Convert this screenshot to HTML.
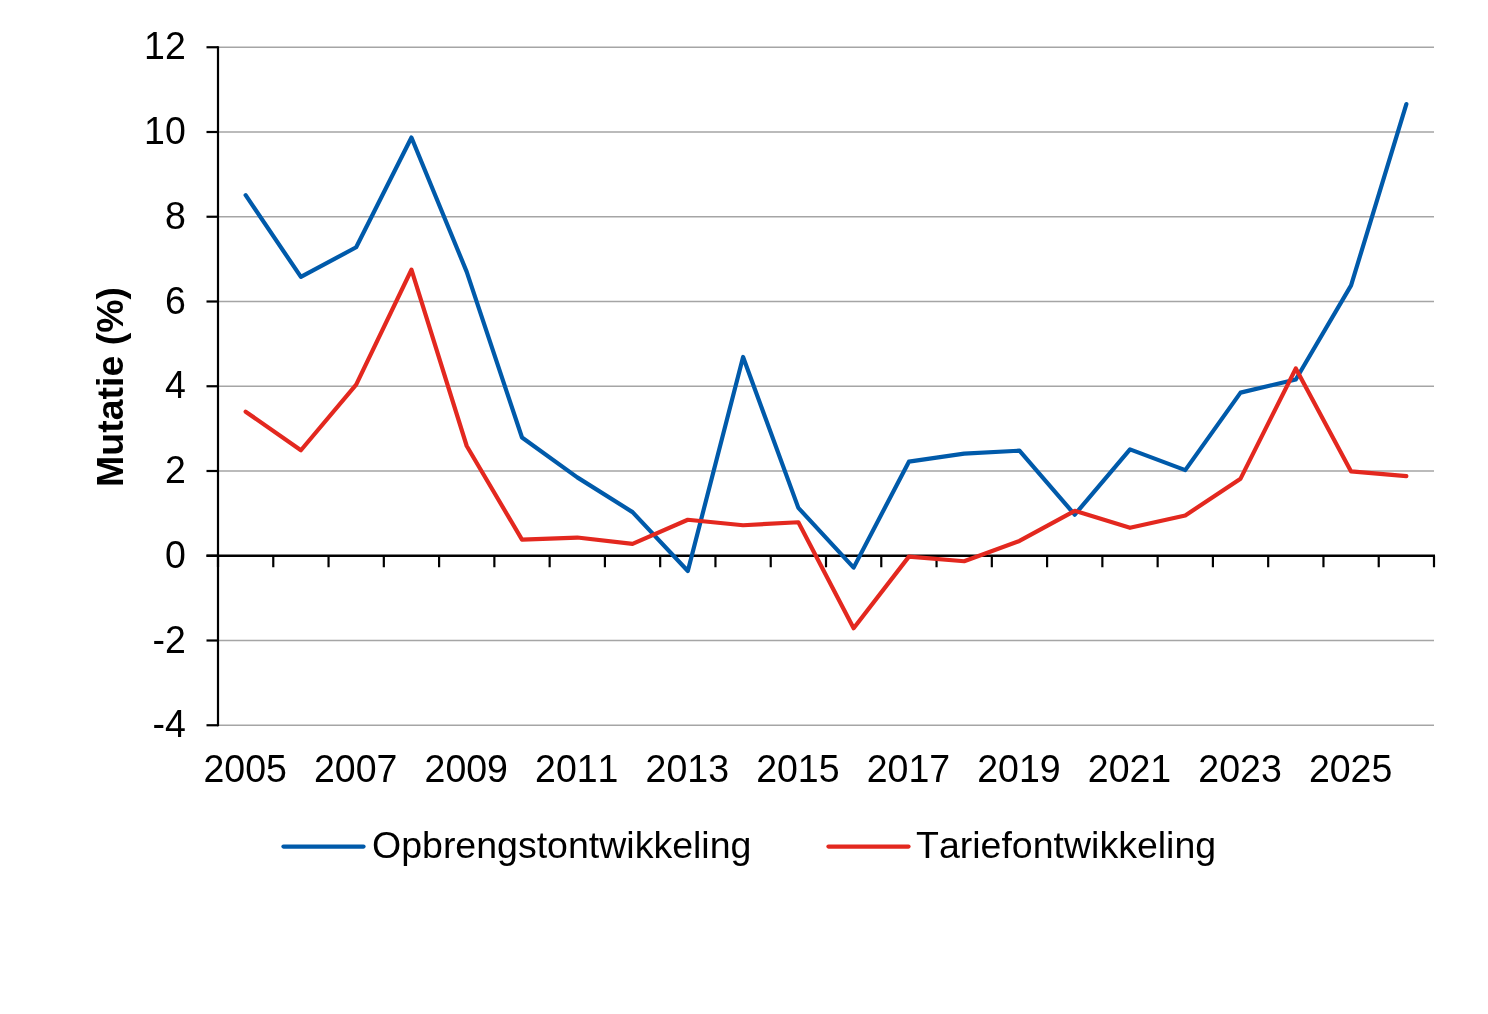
<!DOCTYPE html>
<html><head><meta charset="utf-8"><title>Mutatie (%)</title>
<style>
html,body{margin:0;padding:0;background:#fff;}
body{width:1488px;height:1014px;overflow:hidden;}
svg{display:block;}
text{font-family:"Liberation Sans",Arial,sans-serif;font-size:37.5px;fill:#000;font-kerning:none;font-feature-settings:"kern" 0;}
</style></head>
<body>
<svg width="1488" height="1014" viewBox="0 0 1488 1014">
<rect width="1488" height="1014" fill="#fff"/>
<line x1="218.0" y1="725.25" x2="1434.0" y2="725.25" stroke="#A5A5A5" stroke-width="1.7"/>
<line x1="218.0" y1="640.50" x2="1434.0" y2="640.50" stroke="#A5A5A5" stroke-width="1.7"/>
<line x1="218.0" y1="471.00" x2="1434.0" y2="471.00" stroke="#A5A5A5" stroke-width="1.7"/>
<line x1="218.0" y1="386.25" x2="1434.0" y2="386.25" stroke="#A5A5A5" stroke-width="1.7"/>
<line x1="218.0" y1="301.50" x2="1434.0" y2="301.50" stroke="#A5A5A5" stroke-width="1.7"/>
<line x1="218.0" y1="216.75" x2="1434.0" y2="216.75" stroke="#A5A5A5" stroke-width="1.7"/>
<line x1="218.0" y1="132.00" x2="1434.0" y2="132.00" stroke="#A5A5A5" stroke-width="1.7"/>
<line x1="218.0" y1="47.25" x2="1434.0" y2="47.25" stroke="#A5A5A5" stroke-width="1.7"/>
<line x1="218.0" y1="46.35" x2="218.0" y2="726.15" stroke="#000" stroke-width="2.2"/>
<line x1="206.5" y1="725.25" x2="218.0" y2="725.25" stroke="#000" stroke-width="2.2"/>
<line x1="206.5" y1="640.50" x2="218.0" y2="640.50" stroke="#000" stroke-width="2.2"/>
<line x1="206.5" y1="555.75" x2="218.0" y2="555.75" stroke="#000" stroke-width="2.2"/>
<line x1="206.5" y1="471.00" x2="218.0" y2="471.00" stroke="#000" stroke-width="2.2"/>
<line x1="206.5" y1="386.25" x2="218.0" y2="386.25" stroke="#000" stroke-width="2.2"/>
<line x1="206.5" y1="301.50" x2="218.0" y2="301.50" stroke="#000" stroke-width="2.2"/>
<line x1="206.5" y1="216.75" x2="218.0" y2="216.75" stroke="#000" stroke-width="2.2"/>
<line x1="206.5" y1="132.00" x2="218.0" y2="132.00" stroke="#000" stroke-width="2.2"/>
<line x1="206.5" y1="47.25" x2="218.0" y2="47.25" stroke="#000" stroke-width="2.2"/>
<line x1="206.5" y1="555.75" x2="1435.0" y2="555.75" stroke="#000" stroke-width="2.4"/>
<line x1="218.00" y1="555.75" x2="218.00" y2="567.25" stroke="#000" stroke-width="2.2"/>
<line x1="273.27" y1="555.75" x2="273.27" y2="567.25" stroke="#000" stroke-width="2.2"/>
<line x1="328.55" y1="555.75" x2="328.55" y2="567.25" stroke="#000" stroke-width="2.2"/>
<line x1="383.82" y1="555.75" x2="383.82" y2="567.25" stroke="#000" stroke-width="2.2"/>
<line x1="439.09" y1="555.75" x2="439.09" y2="567.25" stroke="#000" stroke-width="2.2"/>
<line x1="494.36" y1="555.75" x2="494.36" y2="567.25" stroke="#000" stroke-width="2.2"/>
<line x1="549.64" y1="555.75" x2="549.64" y2="567.25" stroke="#000" stroke-width="2.2"/>
<line x1="604.91" y1="555.75" x2="604.91" y2="567.25" stroke="#000" stroke-width="2.2"/>
<line x1="660.18" y1="555.75" x2="660.18" y2="567.25" stroke="#000" stroke-width="2.2"/>
<line x1="715.45" y1="555.75" x2="715.45" y2="567.25" stroke="#000" stroke-width="2.2"/>
<line x1="770.73" y1="555.75" x2="770.73" y2="567.25" stroke="#000" stroke-width="2.2"/>
<line x1="826.00" y1="555.75" x2="826.00" y2="567.25" stroke="#000" stroke-width="2.2"/>
<line x1="881.27" y1="555.75" x2="881.27" y2="567.25" stroke="#000" stroke-width="2.2"/>
<line x1="936.55" y1="555.75" x2="936.55" y2="567.25" stroke="#000" stroke-width="2.2"/>
<line x1="991.82" y1="555.75" x2="991.82" y2="567.25" stroke="#000" stroke-width="2.2"/>
<line x1="1047.09" y1="555.75" x2="1047.09" y2="567.25" stroke="#000" stroke-width="2.2"/>
<line x1="1102.36" y1="555.75" x2="1102.36" y2="567.25" stroke="#000" stroke-width="2.2"/>
<line x1="1157.64" y1="555.75" x2="1157.64" y2="567.25" stroke="#000" stroke-width="2.2"/>
<line x1="1212.91" y1="555.75" x2="1212.91" y2="567.25" stroke="#000" stroke-width="2.2"/>
<line x1="1268.18" y1="555.75" x2="1268.18" y2="567.25" stroke="#000" stroke-width="2.2"/>
<line x1="1323.45" y1="555.75" x2="1323.45" y2="567.25" stroke="#000" stroke-width="2.2"/>
<line x1="1378.73" y1="555.75" x2="1378.73" y2="567.25" stroke="#000" stroke-width="2.2"/>
<line x1="1434.00" y1="555.75" x2="1434.00" y2="567.25" stroke="#000" stroke-width="2.2"/>
<text transform="translate(185.8,737.25) scale(1,1.04)" text-anchor="end">-4</text>
<text transform="translate(185.8,652.50) scale(1,1.04)" text-anchor="end">-2</text>
<text transform="translate(185.8,567.75) scale(1,1.04)" text-anchor="end">0</text>
<text transform="translate(185.8,483.00) scale(1,1.04)" text-anchor="end">2</text>
<text transform="translate(185.8,398.25) scale(1,1.04)" text-anchor="end">4</text>
<text transform="translate(185.8,313.50) scale(1,1.04)" text-anchor="end">6</text>
<text transform="translate(185.8,228.75) scale(1,1.04)" text-anchor="end">8</text>
<text transform="translate(185.8,144.00) scale(1,1.04)" text-anchor="end">10</text>
<text transform="translate(185.8,59.25) scale(1,1.04)" text-anchor="end">12</text>
<text transform="translate(245.14,781.5) scale(1,1.04)" text-anchor="middle">2005</text>
<text transform="translate(355.68,781.5) scale(1,1.04)" text-anchor="middle">2007</text>
<text transform="translate(466.23,781.5) scale(1,1.04)" text-anchor="middle">2009</text>
<text transform="translate(576.77,781.5) scale(1,1.04)" text-anchor="middle">2011</text>
<text transform="translate(687.32,781.5) scale(1,1.04)" text-anchor="middle">2013</text>
<text transform="translate(797.86,781.5) scale(1,1.04)" text-anchor="middle">2015</text>
<text transform="translate(908.41,781.5) scale(1,1.04)" text-anchor="middle">2017</text>
<text transform="translate(1018.95,781.5) scale(1,1.04)" text-anchor="middle">2019</text>
<text transform="translate(1129.50,781.5) scale(1,1.04)" text-anchor="middle">2021</text>
<text transform="translate(1240.05,781.5) scale(1,1.04)" text-anchor="middle">2023</text>
<text transform="translate(1350.59,781.5) scale(1,1.04)" text-anchor="middle">2025</text>
<text transform="translate(122.5,387) rotate(-90) scale(1,1.0)" text-anchor="middle" font-weight="bold">Mutatie (%)</text>
<polyline points="245.64,195.14 300.91,276.92 356.18,247.26 411.45,137.51 466.73,271.84 522.00,437.52 577.27,477.36 632.55,512.10 687.82,571.00 743.09,357.01 798.36,507.87 853.64,567.62 908.91,461.68 964.18,453.63 1019.45,450.66 1074.73,514.65 1130.00,449.39 1185.27,470.15 1240.55,392.61 1295.82,379.47 1351.09,285.40 1406.36,104.03" fill="none" stroke="#005AAA" stroke-width="4.2" stroke-linejoin="round" stroke-linecap="round"/>
<polyline points="245.64,411.68 300.91,450.24 356.18,384.56 411.45,269.72 466.73,446.00 522.00,539.65 577.27,537.53 632.55,543.88 687.82,519.73 743.09,525.24 798.36,522.27 853.64,628.21 908.91,556.60 964.18,561.26 1019.45,540.92 1074.73,510.83 1130.00,527.78 1185.27,515.49 1240.55,478.63 1295.82,368.45 1351.09,471.42 1406.36,476.09" fill="none" stroke="#E3281F" stroke-width="4.2" stroke-linejoin="round" stroke-linecap="round"/>
<line x1="283.5" y1="846.6" x2="363.5" y2="846.6" stroke="#005AAA" stroke-width="4.3" stroke-linecap="round"/>
<text transform="translate(372,858) scale(1,1.0)">Opbrengstontwikkeling</text>
<line x1="828.5" y1="846.6" x2="908.5" y2="846.6" stroke="#E3281F" stroke-width="4.3" stroke-linecap="round"/>
<text transform="translate(916,858) scale(1,1.0)">Tariefontwikkeling</text>
</svg>
</body></html>
